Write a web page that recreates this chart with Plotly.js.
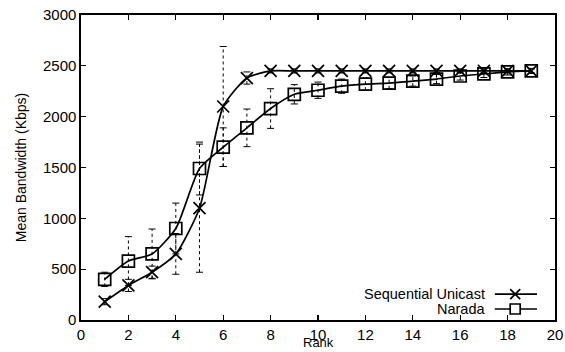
<!DOCTYPE html>
<html>
<head>
<meta charset="utf-8">
<script src="https://cdn.plot.ly/plotly-3.0.1.min.js"></script>
<style>
  html, body { margin: 0; padding: 0; background: #fff; }
  #chart { width: 565px; height: 352px; }
</style>
</head>
<body>
<div id="chart"></div>
<script>
// Mean bandwidth received by each rank
const rank = [1, 2, 3, 4, 5, 6, 7, 8, 9, 10, 11, 12, 13, 14, 15, 16, 17, 18, 19];
const seqUnicast = [180, 340, 470, 650, 1100, 2100, 2380, 2450, 2450, 2450, 2450, 2450, 2450, 2450, 2450, 2450, 2450, 2450, 2450];
const seqUnicastErr = [30, 60, 60, 200, 630, 590, 60, 20, 20, 20, 20, 20, 20, 20, 20, 20, 20, 20, 20];
const narada = [400, 580, 650, 900, 1490, 1700, 1890, 2080, 2220, 2260, 2300, 2320, 2330, 2350, 2370, 2400, 2420, 2440, 2450];
const naradaErr = [70, 240, 245, 250, 260, 190, 185, 195, 95, 80, 70, 60, 55, 50, 45, 40, 35, 30, 25];
const seriesNames = ['Sequential Unicast', 'Narada'];

const FONT = 'Liberation Sans, Arial, sans-serif';

// Dotted vertical error bars with small end caps, one segment per point
function errorTrace(xs, ys, errs) {
  const ex = [], ey = [];
  xs.forEach((x, i) => {
    ex.push(x, x, null);
    ey.push(ys[i] - errs[i], ys[i] + errs[i], null);
  });
  return {
    x: ex, y: ey, type: 'scatter', mode: 'lines+markers',
    line: { color: '#000', width: 1, dash: 'dot' },
    marker: { symbol: 'line-ew-open', size: 5, color: '#000', line: { color: '#000', width: 1 } },
    hoverinfo: 'skip', showlegend: false, connectgaps: false
  };
}

const traces = [
  errorTrace(rank, seqUnicast, seqUnicastErr),
  errorTrace(rank, narada, naradaErr),
  {
    x: rank, y: seqUnicast, name: seriesNames[0], type: 'scatter', mode: 'lines+markers',
    line: { color: '#000', width: 1.7, shape: 'spline', smoothing: 0.6 },
    marker: { symbol: 'x-thin-open', size: 12, color: '#000', line: { color: '#000', width: 1.7 } },
    showlegend: false
  },
  {
    x: rank, y: narada, name: seriesNames[1], type: 'scatter', mode: 'lines+markers',
    line: { color: '#000', width: 1.7, shape: 'spline', smoothing: 0.6 },
    marker: { symbol: 'square-open', size: 12, color: '#000', line: { color: '#000', width: 1.7 } },
    showlegend: false
  }
];

// Legend drawn in the lower right: label, then a line sample with the marker
const legendRows = [0.085, 0.036];
const shapes = [];
const annotations = [];
legendRows.forEach((yy, i) => {
  annotations.push({
    xref: 'paper', yref: 'paper', x: 0.856, y: yy, xanchor: 'right', yanchor: 'middle',
    text: seriesNames[i], showarrow: false,
    font: { family: FONT, size: 14.5, color: '#000' }
  });
  shapes.push({
    type: 'line', xref: 'paper', yref: 'paper', x0: 0.873, x1: 0.962, y0: yy, y1: yy,
    line: { color: '#000', width: 1.7 }
  });
  if (i === 0) {
    shapes.push({ type: 'line', xref: 'paper', yref: 'paper', xsizemode: 'pixel', ysizemode: 'pixel',
      xanchor: 0.916, yanchor: yy, x0: -5, x1: 5, y0: -5, y1: 5, line: { color: '#000', width: 1.7 } });
    shapes.push({ type: 'line', xref: 'paper', yref: 'paper', xsizemode: 'pixel', ysizemode: 'pixel',
      xanchor: 0.916, yanchor: yy, x0: -5, x1: 5, y0: 5, y1: -5, line: { color: '#000', width: 1.7 } });
  } else {
    shapes.push({ type: 'rect', xref: 'paper', yref: 'paper', xsizemode: 'pixel', ysizemode: 'pixel',
      xanchor: 0.916, yanchor: yy, x0: -5, x1: 5, y0: -5, y1: 5,
      line: { color: '#000', width: 1.7 }, fillcolor: '#fff' });
  }
});

// Horizontal axis title sits just under the tick labels, at the bottom edge
annotations.push({
  xref: 'paper', yref: 'paper', x: 0.5, y: -0.104, xanchor: 'center', yanchor: 'bottom',
  text: 'Rank', showarrow: false, font: { family: FONT, size: 13, color: '#000' }
});

const axisCommon = {
  showgrid: false, zeroline: false, showline: true, linecolor: '#000', linewidth: 1.6,
  mirror: 'ticks', ticks: 'inside', ticklen: 5, tickwidth: 1.3, tickcolor: '#000',
  tickfont: { family: FONT, size: 15, color: '#000' }
};

const layout = {
  width: 565, height: 352,
  margin: { l: 81, r: 10, t: 15, b: 32 },
  paper_bgcolor: '#fff', plot_bgcolor: '#fff',
  showlegend: false,
  font: { family: FONT, color: '#000' },
  xaxis: Object.assign({}, axisCommon, {
    range: [0, 20], dtick: 2, tick0: 0
  }),
  yaxis: Object.assign({}, axisCommon, {
    range: [0, 3000], dtick: 500, tick0: 0,
    title: { text: 'Mean Bandwidth (Kbps)', font: { family: FONT, size: 14, color: '#000' }, standoff: 13 }
  }),
  shapes: shapes,
  annotations: annotations
};

Plotly.newPlot('chart', traces, layout, { displayModeBar: false, staticPlot: true });
</script>
</body>
</html>
